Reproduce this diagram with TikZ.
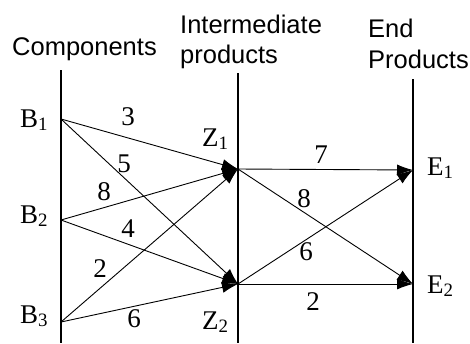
\documentclass[tikz,border=0pt]{standalone}
\usepackage{fontspec}
\setmainfont{Liberation Serif}
\newfontfamily\hdrfont{Liberation Sans}
\usetikzlibrary{arrows.meta}
\begin{document}
\begin{tikzpicture}[x=1pt,y=-1pt,
  hdr/.style={font=\hdrfont\fontsize{25.5}{28}\selectfont, anchor=base west, inner sep=0pt},
  lbl/.style={font=\fontsize{27}{30}\selectfont, anchor=base west, inner sep=0pt},
  num/.style={font=\fontsize{27}{30}\selectfont, anchor=base, inner sep=0pt},
  axis/.style={line width=1.3pt},
  arr/.style={line width=0.9pt, -{Latex[length=16pt,width=11pt]}}]
\useasboundingbox[fill=white] (0,0) rectangle (470,343);
% axes
\coordinate (a1t) at (61,70);  \coordinate (a1b) at (61,343);
\coordinate (a2t) at (238,73); \coordinate (a2b) at (238,343);
\coordinate (a3t) at (413,79); \coordinate (a3b) at (413,343);
\draw[axis] (a1t) -- (a1b);
\draw[axis] (a2t) -- (a2b);
\draw[axis] (a3t) -- (a3b);
% headers
\node[hdr] (hc) at (12,55) {Components};
\node[hdr] (hi1) at (180,33) {Intermediate};
\node[hdr] (hi2) at (180,63) {products};
\node[hdr] (he1) at (368,37) {End};
\node[hdr] (he2) at (368,68) {Products};
% points
\coordinate (B1) at (61,119);
\coordinate (B2) at (61,220);
\coordinate (B3) at (61,322);
\coordinate (Z1) at (238,169);
\coordinate (Z2) at (238,284);
\coordinate (E1) at (413,170);
\coordinate (E2) at (413,284);
% point labels
\node[lbl] (lB1) at (20,127) {B\textsubscript{1}};
\node[lbl] (lB2) at (20,223) {B\textsubscript{2}};
\node[lbl] (lB3) at (20,323) {B\textsubscript{3}};
\node[lbl] (lZ1) at (202,146) {Z\textsubscript{1}};
\node[lbl] (lZ2) at (202,329) {Z\textsubscript{2}};
\node[lbl] (lE1) at (427,175) {E\textsubscript{1}};
\node[lbl] (lE2) at (427,293) {E\textsubscript{2}};
% connectors
\draw[arr] (B1) -- (Z1);
\draw[arr] (B1) -- (Z2);
\draw[arr] (B2) -- (Z1);
\draw[arr] (B2) -- (Z2);
\draw[arr] (B3) -- (Z1);
\draw[arr] (B3) -- (Z2);
\draw[arr] (Z1) -- (E1);
\draw[arr] (Z1) -- (E2);
\draw[arr] (Z2) -- (E1);
\draw[arr] (Z2) -- (E2);
% weights
\node[num] (w1) at (128,125) {3};
\node[num] (w2) at (124,172) {5};
\node[num] (w3) at (104,200) {8};
\node[num] (w4) at (128,237) {4};
\node[num] (w5) at (100,277) {2};
\node[num] (w6) at (134,327) {6};
\node[num] (w7) at (321,163) {7};
\node[num] (w8) at (304,207) {8};
\node[num] (w9) at (306,260) {6};
\node[num] (w10) at (313,310) {2};
\end{tikzpicture}
\end{document}
